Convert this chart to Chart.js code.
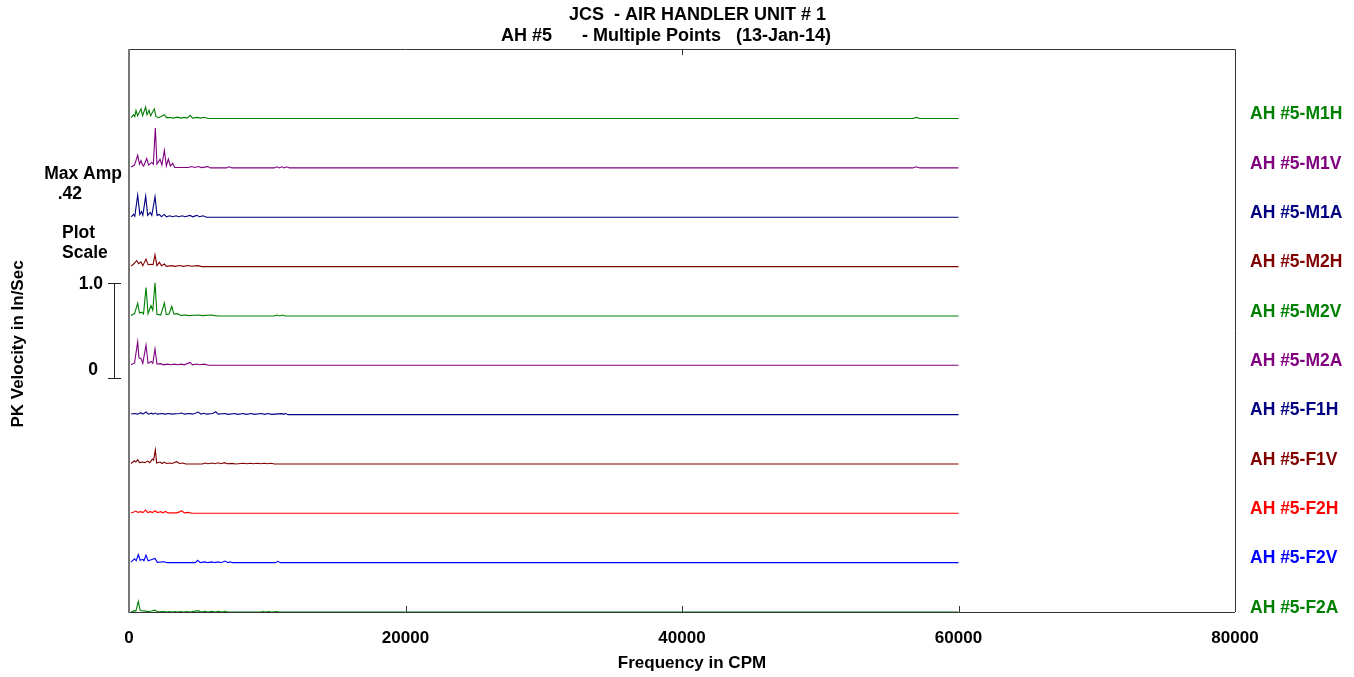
<!DOCTYPE html>
<html>
<head>
<meta charset="utf-8">
<title>JCS - AIR HANDLER UNIT # 1</title>
<script src="https://cdn.jsdelivr.net/npm/chart.js@4.4.1/dist/chart.umd.min.js"></script>
<style>
  body { margin: 0; background: #fff; }
  #wrap { width: 1354px; height: 677px; }
</style>
</head>
<body>
<div id="wrap"><canvas id="myChart" width="1354" height="677"></canvas></div>
<script>
// spectra, [frequency in CPM, PK velocity in In/Sec], top trace first
const pointNames = ['AH #5-M1H', 'AH #5-M1V', 'AH #5-M1A', 'AH #5-M2H', 'AH #5-M2V', 'AH #5-M2A',
                    'AH #5-F1H', 'AH #5-F1V', 'AH #5-F2H', 'AH #5-F2V', 'AH #5-F2A'];
const traceColors = ['#008000', '#800080', '#000080', '#800000', '#008000', '#800080',
                     '#000080', '#800000', '#ff0000', '#0000ff', '#008000'];
const xTicks = [0, 20000, 40000, 60000, 80000];

const m1h = [[150,0.01],[330,0.04],[420,0.02],[507,0.086],[620,0.03],[869,0.103],[980,0.03],[1206,0.12],[1300,0.04],
  [1448,0.086],[1560,0.03],[1834,0.103],[1950,0.02],[2150,0.01],[2558,0.041],[2700,0.01],[3000,0.012],[3200,0.005],
  [3500,0.015],[3750,0.005],[4000,0.012],[4200,0.005],[4415,0.034],[4600,0.005],[4950,0.012],[5150,0.005],[5450,0.014],
  [5720,0],[56700,0],[56960,0.012],[57200,0],[60000,0]];
const m1v = [[150,0.01],[400,0.03],[628,0.134],[760,0.04],[869,0.077],[980,0.03],[1060,0.02],[1280,0.1],[1420,0.03],
  [1641,0.058],[1760,0.04],[1906,0.42],[2020,0.04],[2244,0.09],[2380,0.03],[2558,0.186],[2700,0.02],[2847,0.093],
  [2990,0.02],[3160,0.048],[3300,0.005],[4300,0.005],[4535,0.014],[4750,0.004],[5018,0.014],[5250,0.003],[5693,0.014],
  [5900,0],[7050,0],[7238,0.012],[7450,0],[10500,0],[10690,0.012],[10870,0],[11050,0.012],[11230,0],[11410,0.012],
  [11600,0],[56700,0],[56960,0.012],[57200,0],[60000,0]];
const m1a = [[150,0.005],[330,0.03],[420,0.01],[628,0.234],[780,0.03],[900,0.06],[1000,0.02],[1206,0.223],[1350,0.02],
  [1530,0.05],[1650,0.02],[1882,0.216],[2030,0.02],[2200,0.03],[2350,0.005],[2558,0.03],[2700,0.005],[2950,0.015],
  [3150,0.005],[3400,0.015],[3600,0.005],[3850,0.015],[4050,0.005],[4415,0.02],[4600,0.005],[4900,0.02],[5100,0.005],
  [5350,0.015],[5620,0],[60000,0]];
const m2h = [[150,0.005],[350,0.03],[555,0.062],[700,0.03],[869,0.05],[1000,0.01],[1230,0.079],[1380,0.02],[1600,0.025],
  [1740,0.02],[1882,0.124],[2020,0.01],[2195,0.045],[2350,0.01],[2558,0.027],[2700,0.003],[3088,0.01],[3300,0.003],
  [3700,0.012],[3900,0.003],[4300,0.012],[4500,0.003],[5000,0.01],[5260,0],[60000,0]];
const m2v = [[150,0.005],[400,0.025],[628,0.134],[760,0.03],[930,0.04],[1050,0.02],[1230,0.299],[1380,0.025],[1592,0.11],
  [1720,0.06],[1882,0.35],[2020,0.018],[2300,0.01],[2558,0.137],[2700,0.014],[2900,0.02],[3088,0.1],[3250,0.018],
  [3500,0.024],[3750,0.006],[4100,0.01],[4300,0.003],[5000,0.01],[5300,0.003],[5950,0.01],[6200,0.003],[6440,0],
  [10500,0],[10700,0.01],[10900,0],[11100,0.01],[11300,0],[60000,0]];
const m2a = [[150,0.005],[400,0.024],[628,0.247],[720,0.08],[869,0.07],[1000,0.02],[1230,0.213],[1380,0.02],[1592,0.04],
  [1720,0.02],[1882,0.172],[2020,0.014],[2300,0.017],[2500,0.005],[2800,0.012],[3000,0.005],[3300,0.012],[3500,0.005],
  [3800,0.012],[4000,0.005],[4415,0.03],[4600,0.005],[4900,0.014],[5100,0.005],[5450,0.012],[5740,0],[60000,0]];
const f1h = [[150,0.006],[400,0.012],[600,0.005],[870,0.02],[1000,0.005],[1230,0.027],[1400,0.005],[1640,0.015],[1750,0.005],
  [1882,0.017],[2050,0.005],[2400,0.012],[2600,0.005],[2900,0.012],[3100,0.005],[3600,0.012],[3814,0.017],[4000,0.005],
  [4400,0.012],[4600,0.005],[5017,0.027],[5200,0.006],[5400,0.014],[5600,0.005],[6050,0.012],[6273,0.031],[6450,0.005],
  [6950,0.012],[7150,0.003],[7670,0.012],[7850,0.003],[8280,0.012],[8450,0.003],[8880,0.012],[9050,0.003],[9600,0.012],
  [9800,0.003],[10090,0.012],[10300,0.003],[11050,0.01],[11200,0.003],[11290,0.014],[11500,0],[60000,0]];
const f1v = [[150,0.005],[386,0.034],[500,0.02],[628,0.045],[760,0.014],[1000,0.02],[1150,0.014],[1350,0.03],[1500,0.014],
  [1690,0.052],[1780,0.04],[1906,0.148],[2000,0.01],[2244,0.02],[2400,0.005],[2558,0.02],[2700,0.005],[2950,0.01],
  [3100,0.005],[3450,0.024],[3650,0.005],[3900,0.01],[4100,0],[5300,0],[5500,0.01],[5700,0.003],[6000,0.01],[6200,0.003],
  [6450,0.012],[6650,0.003],[6900,0.014],[7100,0.003],[7500,0.006],[7700,0],[8300,0.008],[8500,0.002],[8800,0.008],
  [9000,0.002],[9300,0.008],[9500,0.002],[9800,0.008],[10000,0.002],[10300,0.008],[10500,0],[60000,0]];
const f2h = [[150,0.005],[350,0.014],[500,0.024],[650,0.01],[869,0.017],[1000,0.008],[1206,0.034],[1350,0.008],[1550,0.017],
  [1700,0.008],[1882,0.027],[2050,0.008],[2300,0.017],[2450,0.005],[2650,0.02],[2800,0.005],[3450,0.005],[3650,0.015],
  [3814,0.027],[4000,0.005],[4300,0.01],[4540,0],[60000,0]];
const f2v = [[150,0.005],[400,0.04],[520,0.02],[676,0.086],[810,0.025],[1000,0.035],[1080,0.02],[1230,0.079],[1380,0.02],
  [1600,0.03],[1882,0.045],[2050,0.003],[2558,0.01],[2750,0],[4800,0],[4970,0.024],[5150,0],[5500,0.008],[5700,0],
  [6000,0.008],[6200,0],[6450,0.008],[6650,0],[6950,0.017],[7150,0],[7300,0.008],[7500,0],[10600,0],[10760,0.014],
  [10950,0],[60000,0]];
const f2a = [[150,0],[400,0.014],[500,0.01],[676,0.113],[800,0.02],[1000,0.01],[1150,0.012],[1300,0.004],[1650,0.01],
  [1882,0.02],[2050,0.003],[2558,0.005],[2700,0],[2950,0.005],[3100,0],[3350,0.005],[3500,0],[3750,0.005],[3900,0],
  [4200,0.005],[4400,0],[5017,0.014],[5200,0],[5500,0.006],[5700,0],[6000,0.006],[6200,0],[6500,0.006],[6700,0],
  [6950,0.006],[7150,0],[9500,0],[9700,0.005],[9900,0],[10100,0.005],[10300,0],[10700,0.005],[10900,0],[60000,0]];

const spectra = [m1h, m1v, m1a, m2h, m2v, m2a, f1h, f1v, f2h, f2v, f2a];

// waterfall layout: one y unit between traces, amplitude scaled to the plot scale bar
const ampScale = 1.925;
const scaleBarBase = 4.74;
const FAMILY = '"Liberation Sans", Arial, sans-serif';

const datasets = spectra.map((pts, i) => {
  const offset = spectra.length - 1 - i;
  return {
    label: pointNames[i],
    data: pts.map(p => ({ x: p[0], y: offset + p[1] * ampScale })),
    borderColor: traceColors[i],
    borderWidth: 1.1,
    pointRadius: 0,
    tension: 0,
    fill: false
  };
});

const decorations = {
  id: 'decorations',
  beforeDatasetsDraw(chart) {
    const { ctx, chartArea: a, scales } = chart;
    ctx.save();
    ctx.strokeStyle = '#333';
    ctx.lineWidth = 1;
    ctx.beginPath();
    ctx.moveTo(a.left, a.top + 0.5);
    ctx.lineTo(a.right + 0.5, a.top + 0.5);
    ctx.lineTo(a.right + 0.5, a.bottom);
    ctx.moveTo(a.left, a.bottom + 0.5);
    ctx.lineTo(a.right, a.bottom + 0.5);
    xTicks.slice(1, -1).forEach(v => {
      const px = Math.round(scales.x.getPixelForValue(v)) + 0.5;
      ctx.moveTo(px, a.bottom);
      ctx.lineTo(px, a.bottom - 6);
    });
    const mid = Math.round(scales.x.getPixelForValue(40000)) + 0.5;
    ctx.moveTo(mid, a.top);
    ctx.lineTo(mid, a.top + 6);
    ctx.stroke();
    ctx.strokeStyle = '#777';
    ctx.lineWidth = 2;
    ctx.beginPath();
    ctx.moveTo(a.left, a.top);
    ctx.lineTo(a.left, a.bottom + 1);
    ctx.stroke();
    ctx.restore();
  },
  afterDraw(chart) {
    const { ctx, scales } = chart;
    const y = scales.y;
    ctx.save();
    ctx.fillStyle = '#000';
    ctx.textBaseline = 'middle';

    ctx.font = 'bold 18px ' + FAMILY;
    ctx.textAlign = 'left';
    ctx.fillText('JCS  - AIR HANDLER UNIT # 1', 569, 15);
    ctx.fillText('AH #5      - Multiple Points   (13-Jan-14)', 501, 36);

    ctx.font = 'bold 17px ' + FAMILY;
    ctx.textAlign = 'center';
    ctx.fillText('Frequency in CPM', 692, 663);

    ctx.save();
    ctx.translate(18, 344);
    ctx.rotate(-Math.PI / 2);
    ctx.fillText('PK Velocity in In/Sec', 0, 0);
    ctx.restore();

    // left legend block
    ctx.font = 'bold 17.5px ' + FAMILY;
    ctx.textAlign = 'right';
    ctx.fillText('Max Amp', 122, 174);
    ctx.fillText('.42', 82, 194);
    ctx.textAlign = 'left';
    ctx.fillText('Plot', 62, 233);
    ctx.fillText('Scale', 62, 253);
    ctx.textAlign = 'right';
    const y0 = y.getPixelForValue(scaleBarBase);
    const y1 = y.getPixelForValue(scaleBarBase + ampScale);
    ctx.fillText('1.0', 103, y1 + 1);
    ctx.fillText('0', 98, y0 - 8);
    ctx.strokeStyle = '#222';
    ctx.lineWidth = 1;
    ctx.beginPath();
    ctx.moveTo(114.5, y1);
    ctx.lineTo(114.5, y0);
    ctx.moveTo(108, Math.round(y1) + 0.5);
    ctx.lineTo(121, Math.round(y1) + 0.5);
    ctx.moveTo(108, Math.round(y0) + 0.5);
    ctx.lineTo(121, Math.round(y0) + 0.5);
    ctx.stroke();

    // point names at the right, one per trace
    ctx.textAlign = 'left';
    pointNames.forEach((name, i) => {
      ctx.fillStyle = traceColors[i];
      ctx.fillText(name, 1250, y.getPixelForValue(spectra.length - 1 - i) - 4);
    });
    ctx.restore();
  }
};

const ctx = document.getElementById('myChart').getContext('2d');
const chart = new Chart(ctx, {
  type: 'line',
  data: { datasets },
  options: {
    responsive: false,
    animation: false,
    events: [],
    layout: { padding: { left: 129, right: 119, top: 49, bottom: 0 } },
    plugins: {
      legend: { display: false },
      tooltip: { enabled: false },
      title: { display: false }
    },
    scales: {
      x: {
        type: 'linear',
        min: 0,
        max: 80000,
        afterFit: s => { s.height = 65; },
        afterBuildTicks: s => { s.ticks = xTicks.map(v => ({ value: v })); },
        grid: { display: false, drawTicks: false },
        border: { display: false },
        ticks: {
          padding: 16,
          color: '#000',
          font: { family: FAMILY, size: 17, weight: 'bold' },
          maxRotation: 0,
          callback: v => String(v)
        }
      },
      y: { display: false, min: 0, max: 11.41 }
    }
  },
  plugins: [decorations]
});
</script>
</body>
</html>
